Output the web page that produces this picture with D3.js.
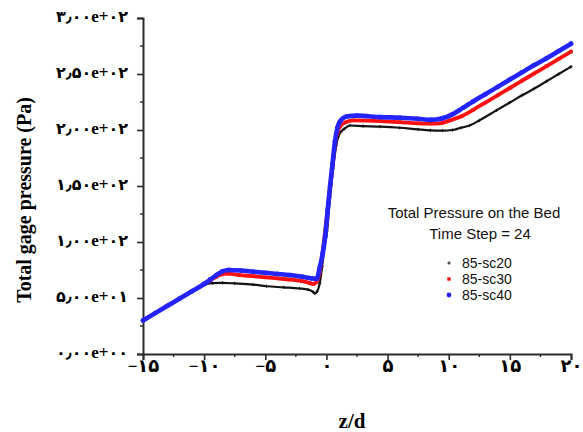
<!DOCTYPE html>
<html>
<head>
<meta charset="utf-8">
<script src="https://cdn.jsdelivr.net/npm/d3@7/dist/d3.min.js"></script>
<style>
  html, body { margin: 0; padding: 0; background: #fff; }
  svg { display: block; }
</style>
</head>
<body>
<svg id="chart" width="583" height="432"></svg>
<script>
// Total pressure on the bed along z/d, time step 24, three runs.
const xTicks = [-15, -10, -5, 0, 5, 10, 15, 20];
const yTicks = [0, 50, 100, 150, 200, 250, 300];

const sc20 = [
  [-15, 30], [-14, 36.5], [-13, 43], [-12, 49.5], [-11, 56], [-10.3, 60.5], [-9.8, 62.5],
  [-9.3, 63.3], [-8.5, 63.5], [-7.5, 63], [-6, 62], [-4.9, 60.5], [-3.5, 59.5], [-2.2, 58.5],
  [-1.5, 57.5], [-1.1, 55.5], [-0.94, 54], [-0.75, 56], [-0.55, 63], [-0.35, 78], [-0.15, 96],
  [0.05, 110], [0.3, 140], [0.55, 166], [0.8, 186], [0.97, 194], [1.2, 198.5], [1.45, 201],
  [1.93, 204], [3, 203.5], [4.4, 203], [6, 202], [7.5, 200.5], [8.5, 199.7], [9.5, 199.5],
  [10.3, 200], [11, 202], [11.7, 204], [12.5, 208.5], [13.9, 217.5], [15, 224.5], [16, 231],
  [17, 237], [18, 243.5], [19, 250], [20, 256.5]
];

const sc30 = [
  [-15, 30], [-14, 36.5], [-13, 43], [-12, 49.5], [-11, 56], [-10, 62.5], [-9.5, 66], [-9, 69],
  [-8.6, 71], [-8.1, 71.8], [-7.1, 70.5], [-6, 69.5], [-5, 68.5], [-4, 67.5], [-3, 66.5], [-2, 65],
  [-1.4, 63.5], [-1.08, 62.5], [-0.8, 64.5], [-0.55, 73], [-0.3, 92], [-0.05, 115], [0.2, 140],
  [0.42, 160], [0.7, 187], [0.9, 198], [1.1, 203], [1.6, 207], [2.2, 208.6], [4.4, 208], [6, 207],
  [7.5, 206], [8.5, 205.7], [9.3, 206], [10.1, 208.6], [11, 212], [12, 218], [13, 224.5], [14, 231],
  [15, 237.5], [16, 244], [17, 250.5], [18, 257], [19, 263.5], [20, 270]
];

const sc40 = [
  [-15, 30], [-14, 36.5], [-13, 43], [-12, 49.5], [-11, 56], [-10, 62.5], [-9.5, 66.5], [-9, 70.5],
  [-8.5, 73.8], [-8, 75], [-7, 74.5], [-6, 73.5], [-5, 72.5], [-4, 71.5], [-3, 70.5], [-2, 69],
  [-1.2, 67.5], [-0.8, 67], [-0.55, 77], [-0.3, 90], [-0.1, 105], [0.1, 128], [0.3, 150], [0.5, 170],
  [0.7, 190], [0.9, 202], [1.1, 207.5], [1.65, 212], [2.5, 212.8], [4.4, 211.5], [6, 211], [7.5, 210],
  [8.5, 209], [9.5, 210.5], [10.3, 214], [11.2, 220], [12, 225.5], [13, 232], [14, 238.5], [15, 245],
  [16, 251.5], [17, 258], [18, 264], [19, 270.5], [20, 277]
];

const seriesNames = ["85-sc20", "85-sc30", "85-sc40"];
const legendTitle = ["Total Pressure on the Bed", "Time Step = 24"];

const svg = d3.select("#chart");
const plot = { left: 143, right: 571, top: 18, bottom: 354 };

const x = d3.scaleLinear().domain([-15, 20]).range([plot.left, plot.right]);
const y = d3.scaleLinear().domain([0, 300]).range([plot.bottom, plot.top]);

// Persian digits with the Arabic decimal separator
const faDigits = "۰۱۲۳۴۵۶۷۸۹";
const toFa = s => s.replace(/[0-9]/g, d => faDigits[+d]).replace(/\./g, "\u066B").replace(/-/g, "\u2212");
function sci(v) {
  if (v === 0) return "0.00e+00";
  const e = Math.floor(Math.log10(Math.abs(v)));
  const m = v / Math.pow(10, e);
  const es = (e < 0 ? "-" : "+") + String(Math.abs(e)).padStart(2, "0");
  return m.toFixed(2) + "e" + es;
}

const axisColor = "#2b2b2b";
const serif = "'Liberation Serif', serif";
const digitFont = "'DejaVu Sans', sans-serif";

// split a label into runs: Persian digits/separator in one face, Latin in another
function styleLabel(sel, size, digitSize) {
  sel.each(function () {
    const t = d3.select(this);
    const str = t.text();
    t.text(null)
      .attr("fill", "#000")
      .style("font-weight", "bold")
      .style("direction", "ltr")
      .style("unicode-bidi", "bidi-override");
    const runs = str.match(/[\u06F0-\u06F9\u066B]+|[^\u06F0-\u06F9\u066B]+/g) || [];
    runs.forEach(r => {
      const fa = /[\u06F0-\u06F9\u066B]/.test(r);
      t.append("tspan")
        .style("font-family", fa ? digitFont : serif)
        .style("font-size", (fa ? digitSize : size) + "px")
        .text(r);
    });
  });
}

// X axis
const xAxis = d3.axisBottom(x)
  .tickValues(xTicks)
  .tickSizeOuter(0)
  .tickSize(6)
  .tickPadding(5)
  .tickFormat(d => toFa(String(d)));
const gx = svg.append("g")
  .attr("transform", `translate(0,${plot.bottom})`)
  .call(xAxis);
gx.select(".domain").attr("stroke", axisColor).attr("stroke-width", 2);
gx.selectAll(".tick line").attr("stroke", axisColor).attr("stroke-width", 1.6);
styleLabel(gx.selectAll(".tick text"), 17, 18);

const xMinor = d3.range(-12.5, 20, 5);
svg.append("g").selectAll("line").data(xMinor).join("line")
  .attr("x1", d => x(d)).attr("x2", d => x(d))
  .attr("y1", plot.bottom).attr("y2", plot.bottom + 3)
  .attr("stroke", axisColor).attr("stroke-width", 1.4);

// Y axis
const yAxis = d3.axisLeft(y)
  .tickValues(yTicks)
  .tickSizeOuter(0)
  .tickSize(6)
  .tickPadding(9)
  .tickFormat(d => toFa(sci(d)));
const gy = svg.append("g")
  .attr("transform", `translate(${plot.left},0)`)
  .call(yAxis);
gy.select(".domain").attr("stroke", axisColor).attr("stroke-width", 2);
gy.selectAll(".tick line").attr("stroke", axisColor).attr("stroke-width", 1.6);
styleLabel(gy.selectAll(".tick text"), 17, 16);

const yMinor = d3.range(25, 300, 50);
svg.append("g").selectAll("line").data(yMinor).join("line")
  .attr("x1", plot.left - 3).attr("x2", plot.left)
  .attr("y1", d => y(d)).attr("y2", d => y(d))
  .attr("stroke", axisColor).attr("stroke-width", 1.4);

// Axis titles
svg.append("text")
  .attr("x", 352).attr("y", 428)
  .attr("text-anchor", "middle")
  .style("font-family", serif)
  .style("font-weight", "bold")
  .style("font-size", "21px")
  .text("z/d");

svg.append("text")
  .attr("transform", "translate(31,200) rotate(-90)")
  .attr("text-anchor", "middle")
  .style("font-family", serif)
  .style("font-weight", "bold")
  .style("font-size", "20px")
  .text("Total gage pressure (Pa)");

// Series traces
const line = d3.line().x(d => x(d[0])).y(d => y(d[1])).curve(d3.curveMonotoneX);
const series = [
  { data: sc20, color: "#141414", width: 2.2, marker: "plus" },
  { data: sc30, color: "#ff1010", width: 3.8, marker: "square" },
  { data: sc40, color: "#2424ff", width: 4.6, marker: "circle" }
];

function drawMarkers(g, pts, s) {
  if (s.marker === "circle") {
    g.append("g").selectAll("circle").data(pts).join("circle")
      .attr("cx", d => d[0]).attr("cy", d => d[1]).attr("r", 2.4)
      .attr("fill", s.color);
  } else if (s.marker === "square") {
    g.append("g").selectAll("rect").data(pts).join("rect")
      .attr("x", d => d[0] - 1.7).attr("y", d => d[1] - 1.7)
      .attr("width", 3.4).attr("height", 3.4)
      .attr("fill", s.color);
  } else {
    g.append("g").selectAll("path").data(pts).join("path")
      .attr("d", d => `M${d[0] - 1.6},${d[1]}H${d[0] + 1.6}M${d[0]},${d[1] - 1.6}V${d[1] + 1.6}`)
      .attr("stroke", s.color).attr("stroke-width", 1);
  }
}

const gs = svg.append("g");
series.forEach(s => {
  gs.append("path")
    .datum(s.data)
    .attr("fill", "none")
    .attr("stroke", s.color)
    .attr("stroke-width", s.width)
    .attr("stroke-linejoin", "round")
    .attr("stroke-linecap", "round")
    .attr("d", line);
  drawMarkers(gs, s.data.map(d => [x(d[0]), y(d[1])]), s);
});

// Legend
const lg = svg.append("g")
  .style("font-family", "'Liberation Sans', Arial, sans-serif")
  .attr("fill", "#111");
lg.append("text").attr("x", 474).attr("y", 218).attr("text-anchor", "middle")
  .style("font-size", "15px").text(legendTitle[0]);
lg.append("text").attr("x", 480).attr("y", 239).attr("text-anchor", "middle")
  .style("font-size", "15px").text(legendTitle[1]);

const legendRows = [263, 279, 295];
seriesNames.forEach((name, i) => {
  const cy = legendRows[i];
  drawMarkers(lg, [[449, cy]], series[i]);
  lg.append("text").attr("x", 462).attr("y", cy + 5)
    .style("font-size", "14px").text(name);
});
</script>
</body>
</html>
